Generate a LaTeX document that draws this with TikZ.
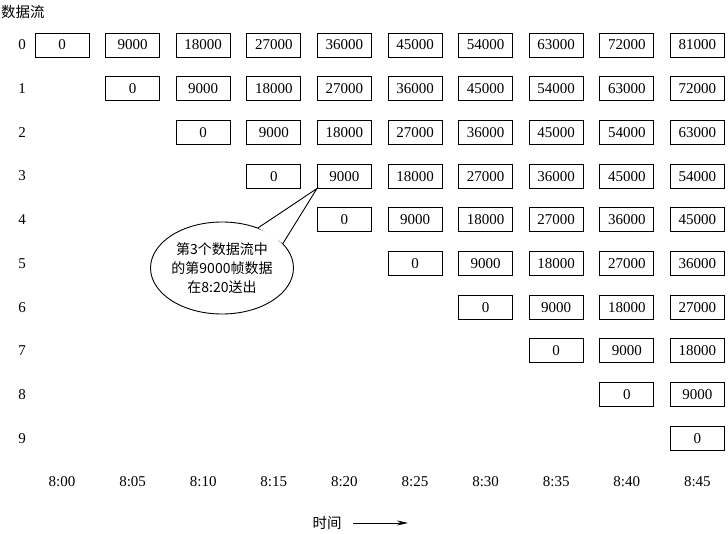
\documentclass[tikz,border=0pt]{standalone}
\usepackage{fontspec}
\setmainfont{Liberation Serif}
\newfontfamily\cjk{Noto Sans CJK SC}
\usetikzlibrary{shapes.geometric,arrows.meta}
\begin{document}
\begin{tikzpicture}[x=1pt,y=-1pt,
  cell/.style={draw,line width=0.9pt,minimum width=54pt,minimum height=24pt,inner sep=0pt,font=\fontsize{15}{15}\selectfont},
  lab/.style={font=\fontsize{15}{15}\selectfont},
  cjklab/.style={font=\cjk\fontsize{14.5}{14.5}\selectfont},
  bubble/.style={ellipse,draw,fill=white,line width=0.9pt,minimum width=140pt,minimum height=92pt,inner sep=0pt,align=center,font=\cjk\fontsize{14}{19}\selectfont},
  tailline/.style={line width=0.9pt,line join=miter},
  timearrow/.style={line width=0.8pt,-{Stealth[length=11pt,width=5pt]}}]
\useasboundingbox (0,0) rectangle (728,534);
\node[cjklab] (title) at (23,12) {数据流};
\foreach \r in {0,...,9} {
  \node[lab] (r\r) at (22,{45+43.7*\r}) {\r};
  \foreach \c in {\r,...,9} {
    \node[cell] (b-\r-\c) at ({62+70.6*\c},{45+43.7*\r}) {\the\numexpr 9000*(\c-\r)\relax};
  }
}
\foreach \c/\t in {0/8:00,1/8:05,2/8:10,3/8:15,4/8:20,5/8:25,6/8:30,7/8:35,8/8:40,9/8:45} {
  \node[lab] (t\c) at ({62+70.6*\c},482) {\t};
}
\node[cjklab] (timelab) at (327,523) {时间};
\coordinate (arrs) at (353,523);
\coordinate (arre) at (408,523);
\draw[timearrow] (arrs) -- (arre);
\node[bubble] (callout) at (222,268) {第3个数据流中\\的第9000帧数据\\在8:20送出};
\fill[white] (callout.22) -- (b-3-4.south west) -- (callout.48) -- cycle;
\draw[tailline] (callout.22) -- (b-3-4.south west) -- (callout.48);
\end{tikzpicture}
\end{document}
